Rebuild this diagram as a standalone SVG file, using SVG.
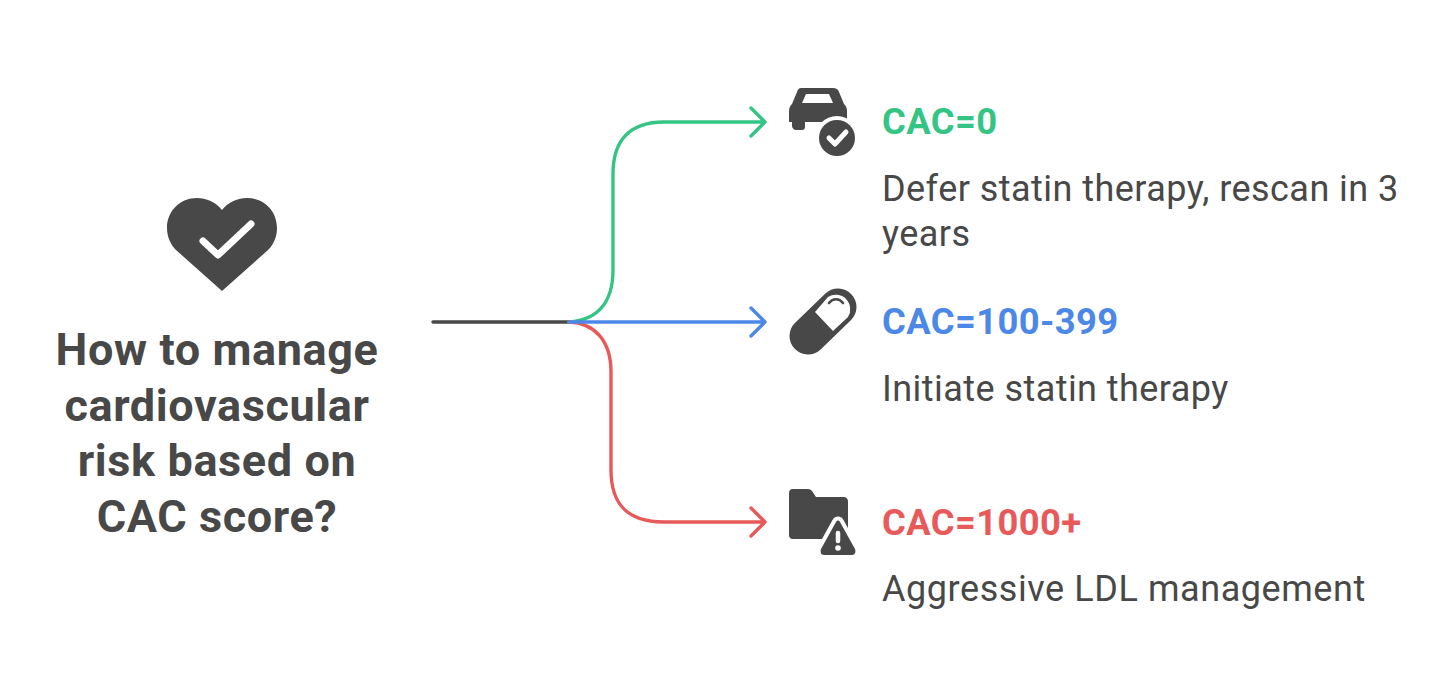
<svg xmlns="http://www.w3.org/2000/svg" width="1456" height="700" viewBox="0 0 1456 700">
<style>
text{font-family:Roboto,"Liberation Sans",sans-serif}
.t{font-size:45px;font-weight:700;fill:#484848;text-anchor:middle;letter-spacing:.6px}
.h{font-size:36.400px;font-weight:700;letter-spacing:.4px}
.b{font-size:36px;fill:#484848;letter-spacing:.45px}
.c{fill:none;stroke-width:3.4;stroke-linecap:round;stroke-linejoin:round}
.i{fill:#484848}
.w{fill:none;stroke:#fff;stroke-linecap:round;stroke-linejoin:round}
</style>
<rect width="1456" height="700" fill="#fff"/>
<g id="connectors">
<path class="c" stroke="#484848" d="M433 322H569"/>
<path class="c" stroke="#34c584" d="M569 322C596 320 613 304 613 270V174C613 140 630 122 664 122H765M751 108L765 122L751 136"/>
<path class="c" stroke="#e85a5a" d="M569 322C594 323 611 340 611 372V470C611 505 628 522 664 522H765M751 508L765 522L751 536"/>
<path class="c" stroke="#4c88e8" d="M569 322H765M751 308L765 322L751 336"/>
</g>
<g id="root">
<path class="i" d="M222 291L176 250C170 244 167 236 167 228C167 211 180 198 197 198C206 198 216 202 222 210C228 202 238 198 247 198C264 198 277 211 277 228C277 236 274 244 268 250Z"/>
<path class="w" stroke-width="7" d="M203 241L218 255L251 224"/>
<text class="t" x="217" y="365">How to manage</text>
<text class="t" x="217" y="421">cardiovascular</text>
<text class="t" x="217" y="476">risk based on</text>
<text class="t" x="217" y="532">CAC score?</text>
</g>
<g id="node-cac0">
<path class="i" d="M801 88H833C836 88 838 89 839 92L844 104C846 106 847 108 847 111V118C847 121 845 122 842 122H789V111C789 108 790 106 792 104L797 92C798 89 799 88 801 88Z"/>
<path fill="#fff" d="M806 94H829L833 103H802Z"/>
<path class="i" d="M792 122H805V126C805 129 804 130 802 130H796C794 130 792 128 792 126Z"/>
<circle cx="837" cy="138" r="22" fill="#fff"/>
<circle class="i" cx="837" cy="138" r="18"/>
<path class="w" stroke-width="5" d="M829 138L835 144L846 132"/>
<text class="h" x="882" y="134" fill="#34c584">CAC=0</text>
<text class="b" x="882" y="201">Defer statin therapy, rescan in 3</text>
<text class="b" x="882" y="246">years</text>
</g>
<g id="node-cac100">
<path fill="none" stroke="#484848" stroke-width="37" stroke-linecap="round" d="M808 336L838 307"/>
<path fill="#fff" d="M815 312L828 297A14.500 14.500 0 0 1 848 317L833 331Z"/>
<path fill="none" stroke="#484848" stroke-width="2.600" stroke-linecap="round" d="M829 303C833 298 839 298 843 303"/>
<text class="h" x="882" y="334" fill="#4c88e8">CAC=100-399</text>
<text class="b" x="882" y="401">Initiate statin therapy</text>
</g>
<g id="node-cac1000">
<path class="i" d="M793 489H808C810 489 811 490 812 491L816 497H844C846 497 848 499 848 501V535C848 537 846 539 844 539H793C790 539 789 537 789 535V493C789 491 790 489 793 489Z"/>
<path class="i" stroke="#fff" stroke-width="8" paint-order="stroke" d="M836 522C837 520 839 520 840 522L855 549C856 552 855 555 852 555H824C821 555 820 552 821 549Z"/>
<path class="w" stroke-width="4.500" d="M838 533V541"/>
<circle cx="838" cy="548" r="2.800" fill="#fff"/>
<text class="h" x="882" y="535" fill="#e85a5a">CAC=1000+</text>
<text class="b" x="882" y="601" style="letter-spacing:.57px">Aggressive LDL management</text>
</g>
</svg>
